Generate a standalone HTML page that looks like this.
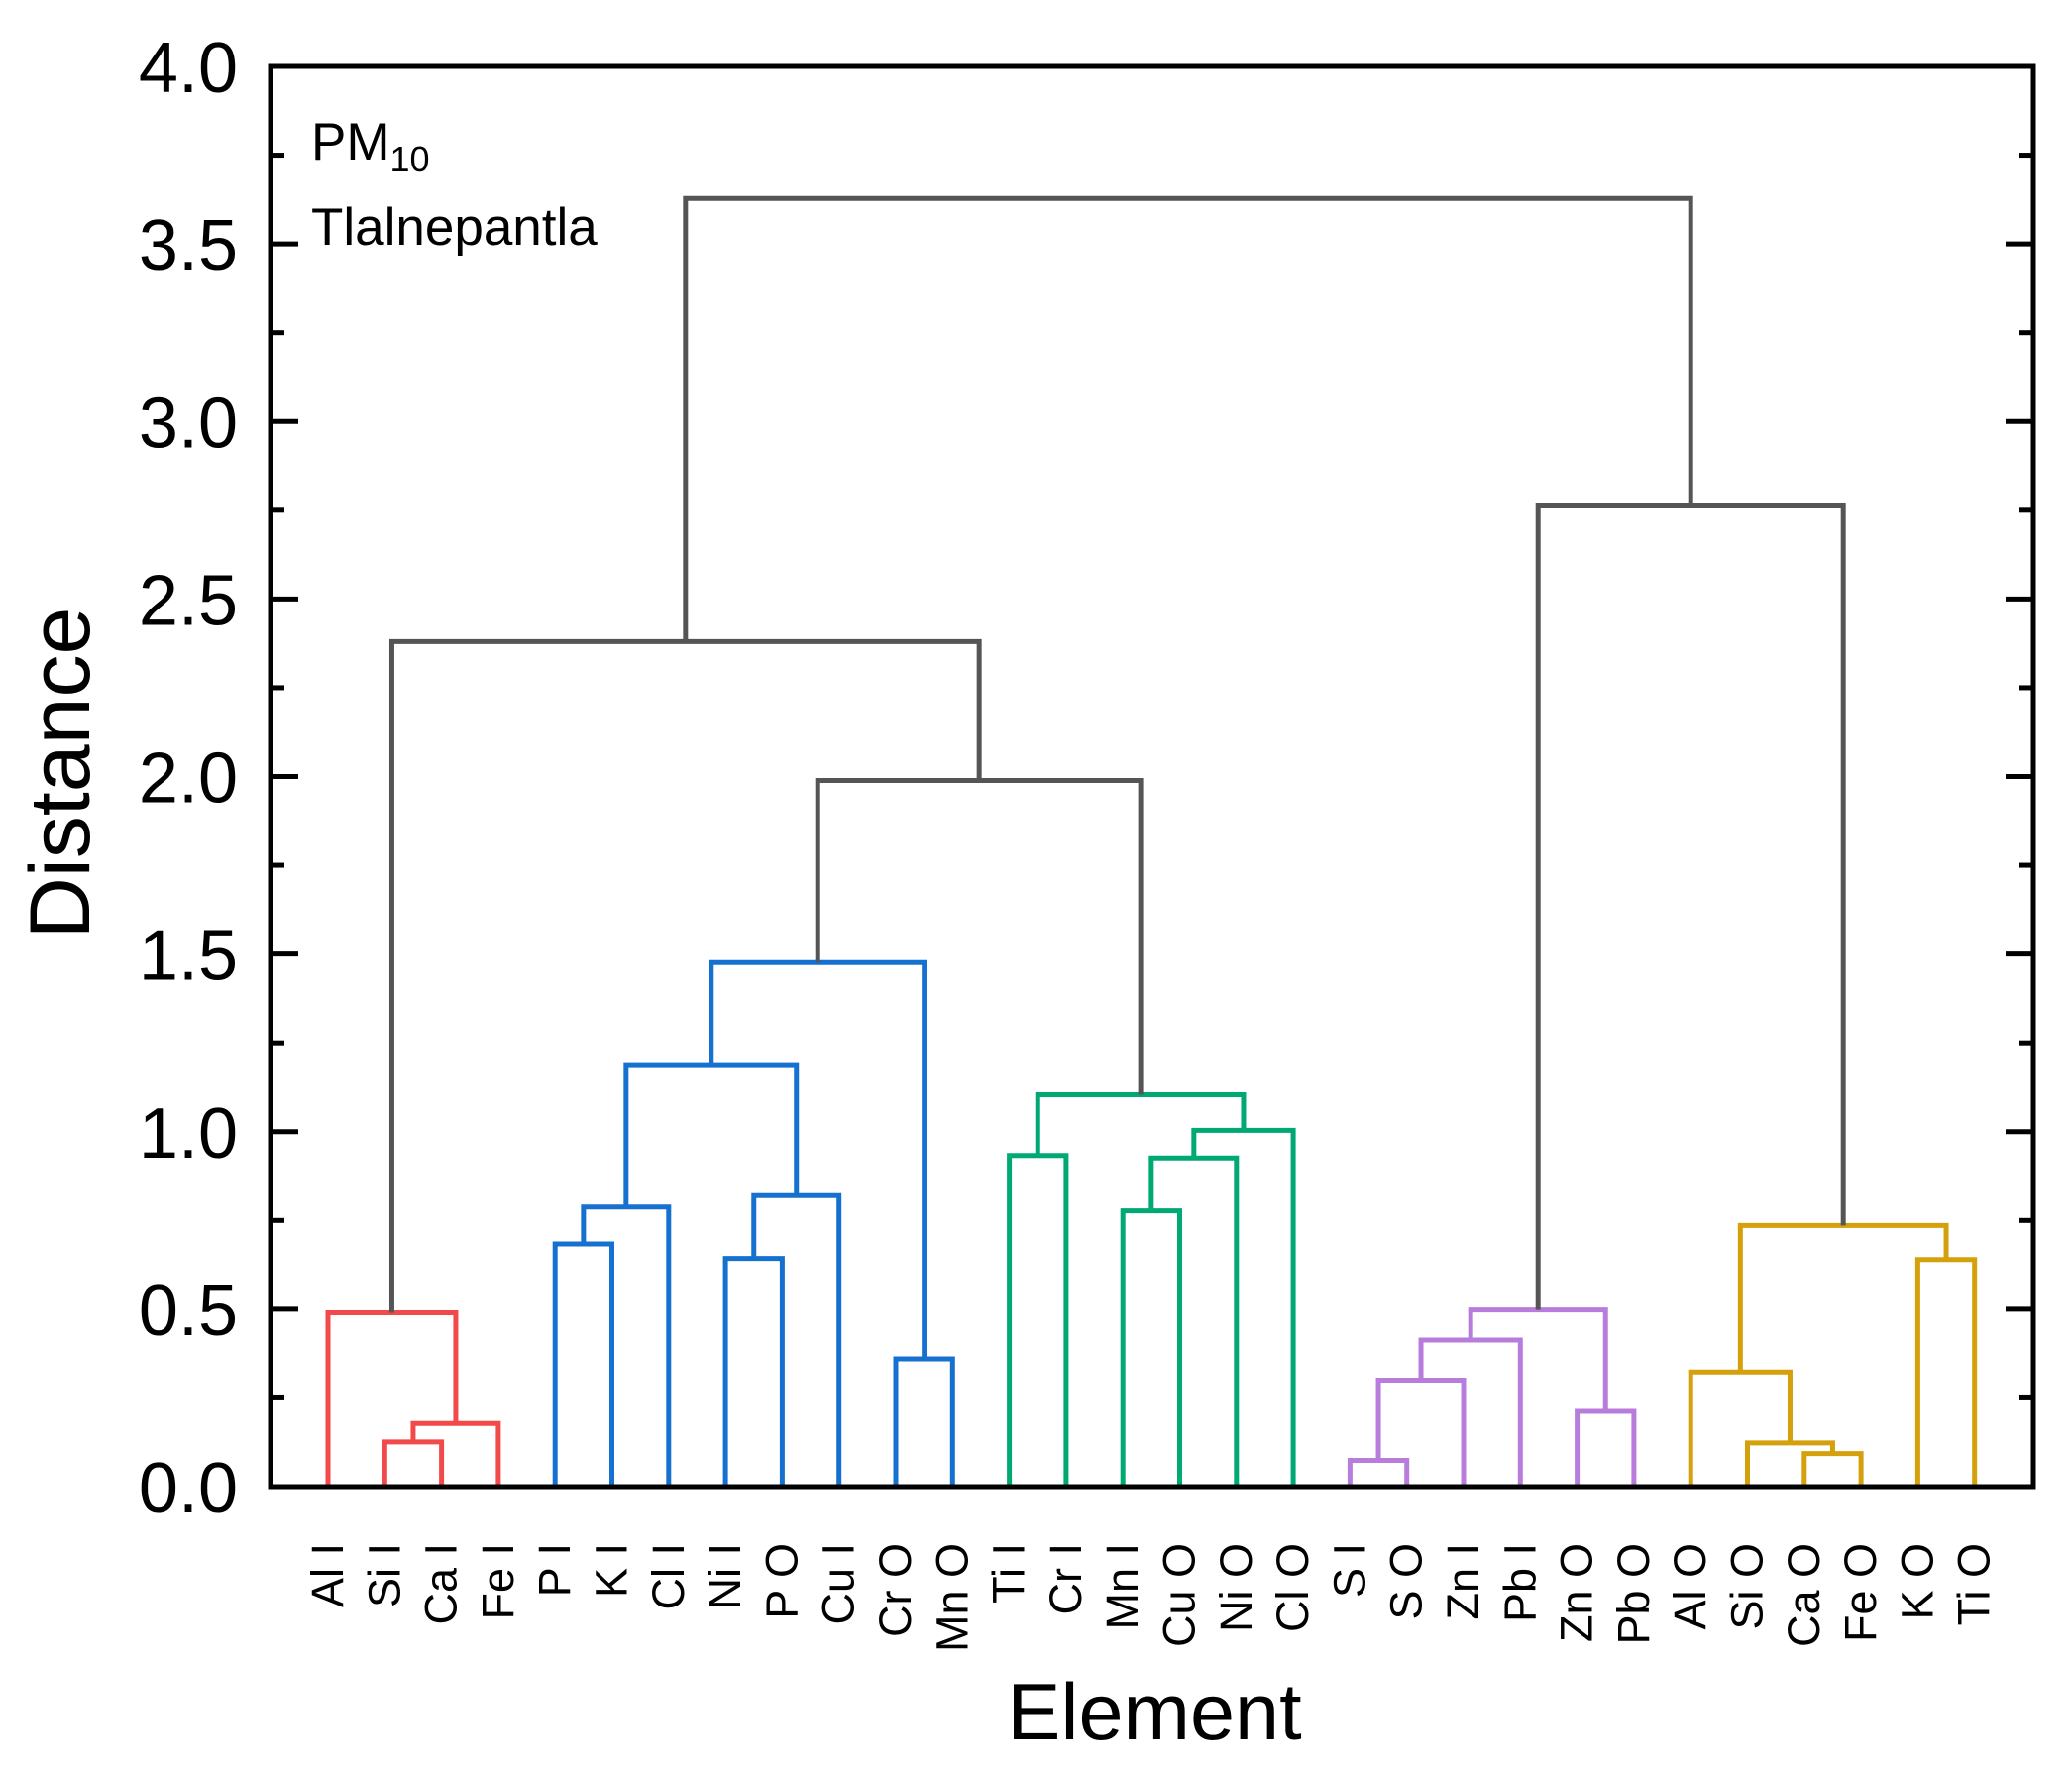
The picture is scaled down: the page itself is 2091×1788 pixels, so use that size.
<!DOCTYPE html>
<html><head><meta charset="utf-8"><style>
html,body{margin:0;padding:0;background:#fff;}
svg{display:block;}
text{font-family:"Liberation Sans",Arial,sans-serif;fill:#000;}
</style></head><body>
<svg id="chart" width="2091" height="1788" viewBox="0 0 2091 1788" xmlns="http://www.w3.org/2000/svg">
<g id="links"></g>
<g id="axes"></g>
<text x="314" y="161" font-size="53">PM<tspan font-size="36" dy="12">10</tspan></text>
<text x="314" y="247" font-size="53">Tlalnepantla</text>
<text transform="translate(90,780) rotate(-90)" text-anchor="middle" font-size="86">Distance</text>
<text x="1165" y="1755" text-anchor="middle" font-size="81">Element</text>
</svg>
<script>
const leaves = ["Al I","Si I","Ca I","Fe I","P I","K I","Cl I","Ni I","P O","Cu I","Cr O","Mn O","Ti I","Cr I","Mn I","Cu O","Ni O","Cl O","S I","S O","Zn I","Pb I","Zn O","Pb O","Al O","Si O","Ca O","Fe O","K O","Ti O"];
// merges: child A, child B (leaf index or "n"+merge index), height
const mergeA = [1, "n0", 0, 4, "n3", 7, "n5", "n4", 10, "n7", 14, "n10", "n11", 12, "n13", "n9", "n2", 18, "n17", "n18", 22, "n19", 26, 25, 24, 28, "n24", "n21", "n16"];
const mergeB = [2, 3, "n1", 5, 6, 8, 9, "n6", 11, "n8", 15, 16, 17, 13, "n12", "n14", "n15", 19, 20, 21, 23, "n20", 27, "n22", "n23", 29, "n25", "n26", "n27"];
const heights = [0.126, 0.178, 0.49, 0.684, 0.788, 0.643, 0.82, 1.186, 0.36, 1.476, 0.777, 0.926, 1.004, 0.933, 1.104, 1.989, 2.38, 0.074, 0.30, 0.413, 0.212, 0.498, 0.093, 0.123, 0.323, 0.64, 0.736, 2.762, 3.628];
const colors = ["#f24a4a","#f24a4a","#f24a4a","#1670d0","#1670d0","#1670d0","#1670d0","#1670d0","#1670d0","#1670d0","#00a874","#00a874","#00a874","#00a874","#00a874","#555","#555","#b87ddc","#b87ddc","#b87ddc","#b87ddc","#b87ddc","#d4a00c","#d4a00c","#d4a00c","#d4a00c","#d4a00c","#555","#555"];
const yTicks = ["0.0","0.5","1.0","1.5","2.0","2.5","3.0","3.5","4.0"];

const X0=273, X1=2052, Y0=1500, Y1=67, YMAX=4.0;
const xLeaf = i => 331 + i*57.3;
const yv = v => Y0 - (v/YMAX)*(Y0-Y1);
const NS="http://www.w3.org/2000/svg";
const links=document.getElementById('links');
const axes=document.getElementById('axes');
function mk(tag, attrs, parent){const e=document.createElementNS(NS,tag);for(const k in attrs)e.setAttribute(k,attrs[k]);parent.appendChild(e);return e;}

const nodeX={}, nodeH={};
function pos(c){ if(typeof c==="number") return [xLeaf(c),0]; return [nodeX[c],nodeH[c]]; }
for(let k=0;k<heights.length;k++){
  const a=pos(mergeA[k]), b=pos(mergeB[k]), h=heights[k];
  nodeX["n"+k]=(a[0]+b[0])/2; nodeH["n"+k]=h;
  const p=mk('path',{d:`M${a[0]},${yv(a[1])}V${yv(h)}H${b[0]}V${yv(b[1])}`,fill:'none',stroke:colors[k],'stroke-width':5,'stroke-linejoin':'miter'},links);
  
  
}

const fr=mk('rect',{x:X0,y:Y1,width:X1-X0,height:Y0-Y1,fill:'none',stroke:'#000','stroke-width':5},axes);


for(let i=0;i<yTicks.length;i++){
  const v=parseFloat(yTicks[i]), y=yv(v);
  const t1=mk('line',{x1:X0,x2:X0+28,y1:y,y2:y,stroke:'#000','stroke-width':5},axes);
  
  
  const t2=mk('line',{x1:X1,x2:X1-28,y1:y,y2:y,stroke:'#000','stroke-width':5},axes);
  
  
  const lb=mk('text',{x:240,y:y+26,'text-anchor':'end','font-size':72},axes);
  lb.textContent=yTicks[i];
  
  
  if(i<yTicks.length-1){
    const ym=yv(v+0.25);
    const m1=mk('line',{x1:X0,x2:X0+14,y1:ym,y2:ym,stroke:'#000','stroke-width':5},axes);
    
    
    const m2=mk('line',{x1:X1,x2:X1-14,y1:ym,y2:ym,stroke:'#000','stroke-width':5},axes);
    
    
  }
}
leaves.forEach((s,i)=>{
  const x=xLeaf(i)+15;
  const t=mk('text',{transform:`translate(${x},1557) rotate(-90)`,'text-anchor':'end','font-size':45},axes);
  t.textContent=s;
  
  
});
</script>
</body></html>
